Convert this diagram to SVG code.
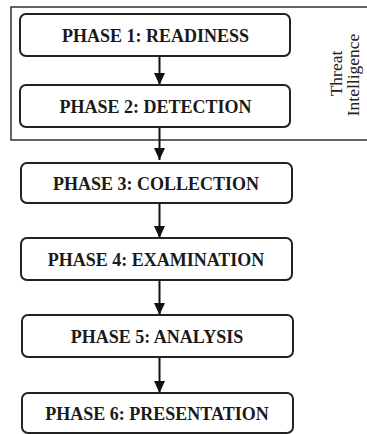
<svg xmlns="http://www.w3.org/2000/svg" width="367" height="434" viewBox="0 0 367 434">
<defs>
<marker id="ah" viewBox="0 0 12 11" refX="12" refY="5.5" markerWidth="12" markerHeight="11" markerUnits="userSpaceOnUse" orient="auto">
<path d="M0,0 L12,5.5 L0,11 Z" fill="#111"/>
</marker>
</defs>
<style>
.box{fill:#fff;stroke:#222;stroke-width:2}
.lbl{font-family:"Liberation Serif","Times New Roman",serif;font-weight:bold;font-size:18px;fill:#1a1a1a;text-anchor:middle}
.side{font-family:"Liberation Serif","Times New Roman",serif;font-size:17.5px;fill:#222;text-anchor:middle}
.con{stroke:#111;stroke-width:2;fill:none;marker-end:url(#ah)}
</style>
<rect width="367" height="434" fill="#fff"/>
<g id="threat-intelligence">
<path d="M367,7 H11 V140 H367" fill="none" stroke="#333" stroke-width="1.5"/>
<text class="side" transform="translate(342,73.5) rotate(-90)">Threat</text>
<text class="side" transform="translate(359,75) rotate(-90)">Intelligence</text>
</g>
<g id="connectors">
<line class="con" x1="159.5" y1="56" x2="159.5" y2="85"/>
<line class="con" x1="159.5" y1="127" x2="159.5" y2="160"/>
<line class="con" x1="159.5" y1="203" x2="159.5" y2="238"/>
<line class="con" x1="159.5" y1="280" x2="159.5" y2="315"/>
<line class="con" x1="159.5" y1="357" x2="159.5" y2="393"/>
</g>
<g id="phase1"><rect class="box" x="20" y="14" width="270" height="42" rx="6"/><text class="lbl" x="155.5" y="41.5">PHASE 1: READINESS</text></g>
<g id="phase2"><rect class="box" x="20" y="85" width="270" height="42" rx="6"/><text class="lbl" x="155.5" y="112.5">PHASE 2: DETECTION</text></g>
<g id="phase3"><rect class="box" x="21" y="163" width="271" height="40" rx="6"/><text class="lbl" x="156" y="189.5">PHASE 3: COLLECTION</text></g>
<g id="phase4"><rect class="box" x="21" y="238" width="271" height="42" rx="6"/><text class="lbl" x="156" y="265.5">PHASE 4:  EXAMINATION</text></g>
<g id="phase5"><rect class="box" x="22" y="315" width="271" height="42" rx="6"/><text class="lbl" x="157" y="342.5">PHASE 5: ANALYSIS</text></g>
<g id="phase6"><rect class="box" x="22" y="393" width="271" height="40" rx="6"/><text class="lbl" x="157" y="419.5">PHASE 6: PRESENTATION</text></g>
</svg>
